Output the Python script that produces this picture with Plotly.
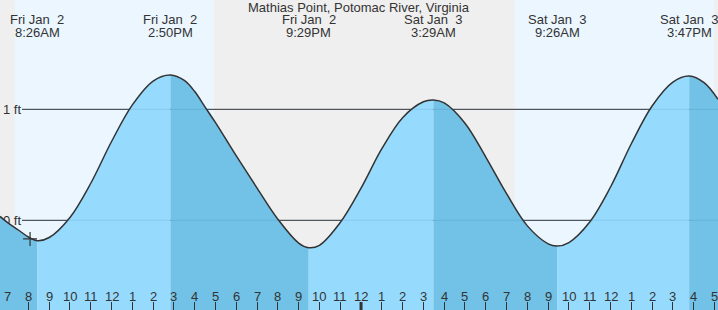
import plotly.graph_objects as go

# ---------------- data ----------------
title_text = "Mathias Point, Potomac River, Virginia"

# hours counted from Fri Jan 2 00:00
event_hours = [8.433, 14.833, 21.483, 27.483, 33.433, 39.783]
event_heights = [-0.184, 1.309, -0.247, 1.084, -0.232, 1.300]
event_days = ["Fri Jan\u00a0 2", "Fri Jan\u00a0 2", "Fri Jan\u00a0 2",
              "Sat Jan\u00a0 3", "Sat Jan\u00a0 3", "Sat Jan\u00a0 3"]
event_times = ["8:26AM", "2:50PM", "9:29PM", "3:29AM", "9:26AM", "3:47PM"]

curve_hours = [6.634, 7, 7.5, 8, 8.433, 9, 10, 11, 12, 13, 14, 14.833,
               15.5, 16, 16.5, 17, 18, 19, 20, 21, 21.483,
               22, 23, 24, 25, 26, 27, 27.483,
               28, 29, 30, 31, 32, 33, 33.433,
               34, 35, 36, 37, 38, 39, 39.783,
               40.5, 41.17]
curve_heights = [0.035, -0.02, -0.085, -0.15, -0.184, -0.155, 0.026, 0.334, 0.71, 1.04, 1.255, 1.309,
                 1.26, 1.16, 1.02, 0.88, 0.58, 0.29, 0.01, -0.205, -0.247,
                 -0.225, -0.02, 0.29, 0.645, 0.925, 1.068, 1.084,
                 1.058, 0.875, 0.57, 0.24, -0.05, -0.212, -0.232,
                 -0.20, -0.015, 0.30, 0.69, 1.03, 1.245, 1.30,
                 1.24, 1.09]

sunrise_hours = [7.34, 31.40]
sunset_hours = [16.93, 40.98]

tick_hours = list(range(7, 42))
tick_labels = ["7", "8", "9", "10", "11", "12", "1", "2", "3", "4", "5", "6",
               "7", "8", "9", "10", "11", "12", "1", "2", "3", "4", "5", "6",
               "7", "8", "9", "10", "11", "12", "1", "2", "3", "4", "5"]
midnight_hour = 24

level_values = [0, 1]
level_labels = ["0 ft", "1 ft"]

now_hour = 8.08
now_height = -0.168

x_range = [6.634, 41.17]
y_range = [-0.808, 1.985]

# ---------------- style ----------------
FONT = "Liberation Sans, Arial, sans-serif"
TXT = "#333333"
NIGHT = "#efefef"
DAY = "#ebf6ff"
RISE = "#96dbfe"
FALL = "#72c1e6"
W, H = 718, 310

fig = go.Figure()

# filled segments between extremes
bounds = [x_range[0]] + event_hours + [x_range[1]]
for i in range(len(bounds) - 1):
    a, b = bounds[i], bounds[i + 1]
    xs = [h for h in curve_hours if a - 1e-9 <= h <= b + 1e-9]
    ys = [curve_heights[curve_hours.index(h)] for h in xs]
    rising = ys[-1] > ys[0]
    fig.add_trace(go.Scatter(x=[xs[0], xs[-1]], y=[y_range[0] - 1] * 2, mode="lines",
                             line=dict(width=0), hoverinfo="skip", showlegend=False))
    fig.add_trace(go.Scatter(x=xs, y=ys, mode="lines", fill="tonexty",
                             fillcolor=RISE if rising else FALL,
                             line=dict(width=0, shape="spline"),
                             hoverinfo="skip", showlegend=False))

# tide curve outline
fig.add_trace(go.Scatter(x=curve_hours, y=curve_heights, mode="lines",
                         line=dict(color=TXT, width=1.5, shape="spline"),
                         hoverinfo="skip", showlegend=False))

# current time marker
fig.add_trace(go.Scatter(x=[now_hour], y=[now_height], mode="markers",
                         marker=dict(symbol="cross-thin", size=10,
                                     line=dict(width=1.2, color=TXT)),
                         hoverinfo="skip", showlegend=False))

shapes = []
for sr, ss in zip(sunrise_hours, sunset_hours):
    shapes.append(dict(type="rect", xref="x", yref="paper", x0=sr, x1=ss, y0=0, y1=1,
                       fillcolor=DAY, line=dict(width=0), layer="below"))
for v in level_values:
    shapes.append(dict(type="line", xref="paper", yref="y", x0=22 / W, x1=1, y0=v, y1=v,
                       line=dict(color=TXT, width=1), layer="below"))
    shapes.append(dict(type="line", xref="paper", yref="y", x0=22 / W, x1=1, y0=v, y1=v,
                       line=dict(color="rgba(30,90,140,0.13)", width=1), layer="above"))
shapes.append(dict(type="line", xref="x", yref="paper", x0=midnight_hour, x1=midnight_hour,
                   y0=0, y1=8 / H, line=dict(color=TXT, width=3), layer="above"))

annotations = [dict(text=title_text, xref="paper", yref="paper", x=0.5, y=1 - 8 / H,
                    yanchor="middle", xanchor="center", showarrow=False, borderpad=0,
                    font=dict(family=FONT, size=13, color=TXT))]
for hx, d, t in zip(event_hours, event_days, event_times):
    annotations.append(dict(text=d, xref="x", yref="paper", x=hx, y=1 - 20 / H,
                            yanchor="middle", xanchor="center", showarrow=False, borderpad=0,
                            font=dict(family=FONT, size=13, color=TXT)))
    annotations.append(dict(text=t, xref="x", yref="paper", x=hx, y=1 - 32.5 / H,
                            yanchor="middle", xanchor="center", showarrow=False, borderpad=0,
                            font=dict(family=FONT, size=13, color=TXT)))
for hx, lab in zip(tick_hours, tick_labels):
    annotations.append(dict(text=lab, xref="x", yref="paper", x=hx, y=14 / H,
                            yanchor="middle", xanchor="center", showarrow=False, borderpad=0,
                            font=dict(family=FONT, size=13, color=TXT)))

fig.update_layout(
    width=W, height=H, margin=dict(l=0, r=0, t=0, b=0),
    paper_bgcolor=NIGHT, plot_bgcolor=NIGHT,
    showlegend=False, shapes=shapes, annotations=annotations,
    xaxis=dict(range=x_range, tickvals=tick_hours, ticks="inside", ticklen=8,
               tickcolor=TXT, tickwidth=1, showticklabels=False, showgrid=False,
               zeroline=False, showline=False, fixedrange=True),
    yaxis=dict(range=y_range, tickvals=level_values, ticktext=level_labels,
               ticklabelposition="inside", ticks="", showgrid=False, zeroline=False,
               showline=False, layer="below traces",
               tickfont=dict(family=FONT, size=13, color=TXT), fixedrange=True),
)

fig.write_html("out.html")
